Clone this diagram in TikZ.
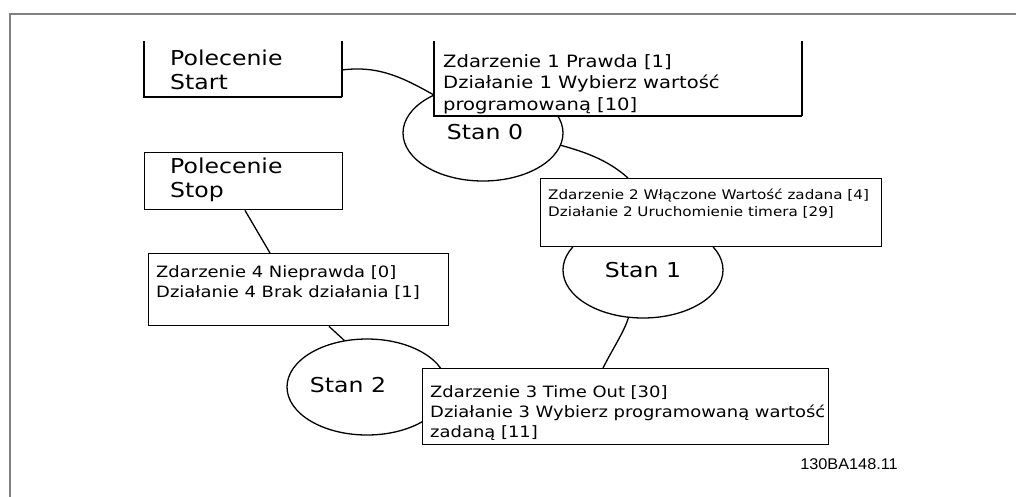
\documentclass[tikz,border=0pt]{standalone}
\usepackage{fontspec}
\setmainfont{DejaVu Sans}[FakeStretch=1.15]
\newfontfamily\codefont{Liberation Sans}[FakeStretch=1.05]
\usetikzlibrary{shapes.geometric}
\begin{document}
\begin{tikzpicture}[x=1pt,y=-1pt,
  box/.style={draw=black,line width=1.4pt,fill=white,inner sep=0pt,anchor=north west},
  openbox/.style={fill=white,inner sep=0pt,outer sep=0pt,anchor=north west},
  boxedge/.style={draw=black,line width=1.5pt},
  state/.style={ellipse,draw=black,line width=1.3pt,minimum width=160pt,minimum height=96pt,inner sep=0pt},
  conn/.style={draw=black,line width=1.3pt},
  txt/.style={inner sep=0pt,align=left,anchor=west},
  bigf/.style={font=\fontsize{20.5}{24}\selectfont},
  zonef/.style={font=\fontsize{17}{21.5}\selectfont},
  medf/.style={font=\fontsize{15.6}{20}\selectfont},
  smallf/.style={font=\fontsize{13.2}{17}\selectfont}]
\useasboundingbox (0,0) rectangle (1016,496);
\fill[white] (0,0) rectangle (1016,496);
% frame
\draw[gray,line width=2pt] (10,497) -- (10,14) -- (1017,14);
% states
\node[state] (s0) at (483,133) {};
\node[state] (s1) at (643,270) {};
\node[state] (s2) at (367,387) {};
% command boxes
\node[openbox,minimum width=198pt,minimum height=56pt] (start) at (144,41) {};
\draw[boxedge] (start.north west) |- (start.south east);
\draw[boxedge] (start.south east) -- (start.south east |- start.north);
\node[box,minimum width=198pt,minimum height=57pt] (stop) at (144,152) {};
% event boxes
\node[openbox,minimum width=368pt,minimum height=75pt] (z1) at (434,41) {};
\draw[boxedge] (z1.north west) |- (z1.south east);
\draw[boxedge] (z1.south east) -- (z1.north east);
\node[box,minimum width=341pt,minimum height=68pt] (z2) at (540,178) {};
\node[box,minimum width=406pt,minimum height=76pt] (z3) at (422,368) {};
\node[box,minimum width=300pt,minimum height=72pt] (z4) at (148,253) {};
% connectors
\draw[conn] ([yshift=-1pt]start.east) .. controls (380,65) and (405,79) .. ([yshift=21pt]z1.south west);
\draw[conn] (s0.-9) .. controls (585,152) and (608,160) .. ([xshift=88pt]z2.north west);
\draw[conn] (s1.-107) .. controls (624,332) and (612,350) .. ([xshift=181pt]z3.north west);
\draw[conn] ([xshift=101pt]stop.south west) -- ([xshift=122pt]z4.north west);
\draw[conn] ([xshift=181pt]z4.south west) -- (s2.116);
% texts
\node[txt,bigf] (tstart) at (170,70) {Polecenie\\Start};
\node[txt,bigf] (tstop) at (170,180) {Polecenie\\Stop};
\node[bigf,inner sep=0pt] (ts0) at (485,132) {Stan 0};
\node[bigf,inner sep=0pt] (ts1) at (643,270) {Stan 1};
\node[bigf,inner sep=0pt] (ts2) at (348,385) {Stan 2};
\node[txt,zonef] (tz1) at (443,84) {Zdarzenie 1 Prawda [1]\\Działanie 1 Wybierz wartość\\programowaną [10]};
\node[txt,smallf] (tz2) at (548,203.5) {Zdarzenie 2 Włączone Wartość zadana [4]\\Działanie 2 Uruchomienie timera [29]};
\node[txt,medf] (tz3) at (430,413) {Zdarzenie 3 Time Out [30]\\Działanie 3 Wybierz programowaną wartość\\zadaną [11]};
\node[txt,medf] (tz4) at (156,283) {Zdarzenie 4 Nieprawda [0]\\Działanie 4 Brak działania [1]};
\node[font=\codefont\fontsize{15.5}{18}\selectfont,inner sep=0pt] (code) at (849,464) {130BA148.11};
\end{tikzpicture}
\end{document}
